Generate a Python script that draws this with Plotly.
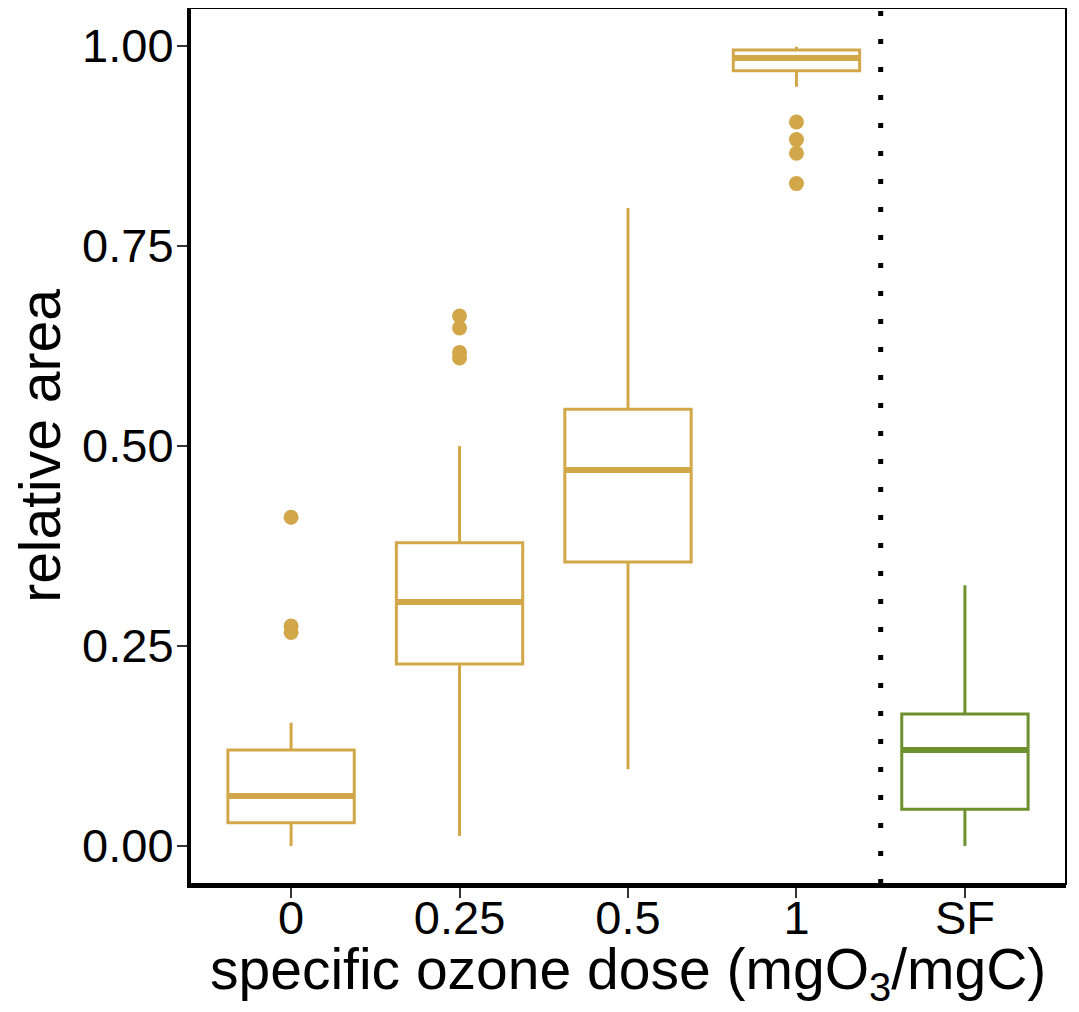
import plotly.graph_objects as go

# ---- data ----
categories = ["0", "0.25", "0.5", "1", "SF"]
lower_whisker = [0.000, 0.0125, 0.096, 0.949, 0.000]
q1_values = [0.029, 0.2275, 0.355, 0.969, 0.046]
median_values = [0.0625, 0.305, 0.470, 0.985, 0.120]
q3_values = [0.120, 0.379, 0.546, 0.995, 0.165]
upper_whisker = [0.154, 0.500, 0.7975, 0.999, 0.326]
outliers = [
    [0.411, 0.275, 0.267],
    [0.6625, 0.6475, 0.617, 0.610],
    [],
    [0.905, 0.883, 0.866, 0.828],
    [],
]
colors = ["#D2A749", "#D2A749", "#D2A749", "#D2A749", "#6E9130"]
x_title = "specific ozone dose (mgO<sub>3</sub>/mgC)"
y_title = "relative area"

BOX_W = 0.75
FONT = "Liberation Sans, Arial, Helvetica, sans-serif"

fig = go.Figure()

for i, cat in enumerate(categories):
    xpos = i + 1
    fig.add_trace(go.Box(
        x=[xpos],
        q1=[q1_values[i]], median=[median_values[i]], q3=[q3_values[i]],
        lowerfence=[lower_whisker[i]], upperfence=[upper_whisker[i]],
        boxpoints=False, width=BOX_W, whiskerwidth=0,
        fillcolor="white", line=dict(color=colors[i], width=3),
        showlegend=False, hoverinfo="skip",
    ))
    # thicker median bar
    fig.add_trace(go.Scatter(
        x=[xpos - BOX_W / 2, xpos + BOX_W / 2],
        y=[median_values[i], median_values[i]],
        mode="lines", line=dict(color=colors[i], width=6),
        showlegend=False, hoverinfo="skip",
    ))
    if outliers[i]:
        fig.add_trace(go.Scatter(
            x=[xpos] * len(outliers[i]), y=outliers[i],
            mode="markers", marker=dict(color=colors[i], size=15, line=dict(width=0)),
            showlegend=False, hoverinfo="skip",
        ))

# dotted separator between dose groups and SF
fig.add_shape(type="line", xref="x", yref="paper", x0=4.5, x1=4.5, y0=0, y1=1,
              line=dict(color="black", width=5, dash="5px,23px"))
# thin panel border
fig.add_shape(type="rect", xref="paper", yref="paper", x0=0, x1=1, y0=0, y1=1,
              line=dict(color="black", width=2), layer="above")

# x-axis title as annotation (placed below tick labels)
fig.add_annotation(text=x_title, xref="paper", yref="paper", x=0.5, y=-0.102,
                   xanchor="center", yanchor="middle", showarrow=False,
                   font=dict(size=57, family=FONT, color="black"))

fig.update_layout(
    width=1071, height=1004,
    margin=dict(l=182, r=13, t=0, b=128),
    plot_bgcolor="white", paper_bgcolor="white",
    font=dict(family=FONT, color="black"),
)
fig.update_xaxes(
    range=[0.4, 5.6], tickvals=[1, 2, 3, 4, 5], ticktext=categories,
    showgrid=False, zeroline=False, automargin=False,
    showline=True, linecolor="black", linewidth=4,
    ticks="outside", ticklen=10, tickwidth=2, tickcolor="#333333",
    ticklabelstandoff=-20,
    tickfont=dict(size=47, family=FONT, color="black"),
)
fig.update_yaxes(
    range=[-0.0475, 1.0475], tickvals=[0, 0.25, 0.5, 0.75, 1.0],
    ticktext=["0.00", "0.25", "0.50", "0.75", "1.00"],
    showgrid=False, zeroline=False, automargin=False,
    showline=True, linecolor="black", linewidth=3,
    ticks="outside", ticklen=10, tickwidth=2, tickcolor="#333333",
    ticklabelstandoff=-6,
    tickfont=dict(size=47, family=FONT, color="black"),
    title=dict(text=y_title, font=dict(size=57, family=FONT, color="black"), standoff=14),
)

fig.write_html("out.html")
